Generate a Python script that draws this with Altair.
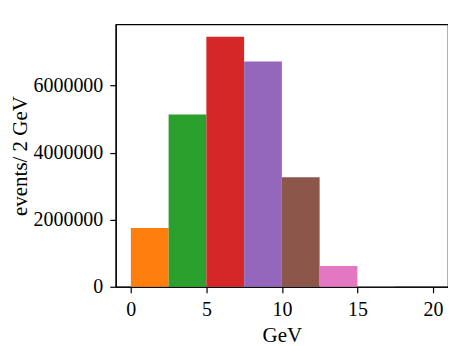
import altair as alt
import pandas as pd

bin_start = [0, 2.5, 5, 7.5, 10, 12.5, 15, 17.5]
bin_end = [2.5, 5, 7.5, 10, 12.5, 15, 17.5, 20]
counts = [1750000, 5140000, 7460000, 6720000, 3270000, 620000, 20000, 1000]
colors = ["#ff7f0e", "#2ca02c", "#d62728", "#9467bd", "#8c564b", "#e377c2", "#7f7f7f", "#bcbd22"]
x_ticks = [0, 5, 10, 15, 20]
y_ticks = [0, 2000000, 4000000, 6000000]

df = pd.DataFrame({
    "start": bin_start,
    "end": bin_end,
    "count": counts,
    "bin": [str(i) for i in range(len(counts))],
})

FONT = "Liberation Serif"

chart = alt.Chart(df).mark_rect(strokeWidth=0).encode(
    x=alt.X("start:Q",
            scale=alt.Scale(domain=[-1, 21], nice=False, zero=False),
            axis=alt.Axis(values=x_ticks, title="GeV", grid=False, format="d")),
    x2="end:Q",
    y=alt.Y("count:Q",
            scale=alt.Scale(domain=[0, 7830000], nice=False),
            axis=alt.Axis(values=y_ticks, title="events/ 2 GeV", grid=False, format="d")),
    y2=alt.datum(0),
    color=alt.Color("bin:N", scale=alt.Scale(domain=df["bin"].tolist(), range=colors), legend=None),
).properties(
    width=333,
    height=263,
    autosize=alt.AutoSizeParams(type="none"),
    padding={"left": 108, "top": 16, "right": 0, "bottom": 62},
).configure_view(
    stroke="black", strokeWidth=1.2
).configure_axis(
    domainColor="black", domainWidth=1.2,
    tickColor="black", tickSize=6, tickWidth=1.2,
    labelFont=FONT, labelFontSize=20, labelColor="black", labelPadding=7,
    titleFont=FONT, titleFontSize=21, titleColor="black", titleFontWeight="normal",
).configure_axisX(
    titlePadding=5
).configure_axisY(
    titlePadding=2
)

chart.save("out.html", embed_options={"renderer": "svg", "actions": False})
